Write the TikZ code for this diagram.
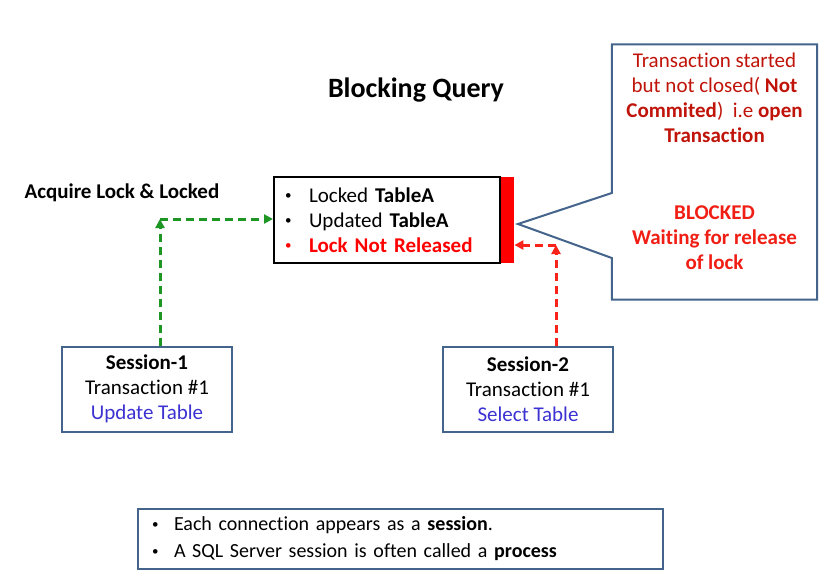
\documentclass[tikz,border=0pt]{standalone}
\usepackage{fontspec}
\setmainfont[Ligatures=NoCommon]{Carlito}
\usetikzlibrary{arrows.meta}
\definecolor{boxblue}{RGB}{68,100,140}
\definecolor{linkgreen}{RGB}{30,150,35}
\definecolor{linkred}{RGB}{250,35,25}
\definecolor{darkred}{RGB}{192,20,10}
\definecolor{brightred}{RGB}{240,30,20}
\definecolor{textblue}{RGB}{60,50,210}
\tikzset{
  body/.style={font=\fontsize{21}{25}\selectfont},
  sessionbox/.style={draw=boxblue, line width=2pt, minimum width=170pt, minimum height=85pt,
    align=center, inner sep=0pt, body},
  lockbox/.style={draw=black, line width=2pt, minimum width=226pt, minimum height=86pt,
    text width=204pt, inner xsep=11pt, align=left, body},
  redbar/.style={fill=red, draw=none, minimum width=13pt, minimum height=86pt, inner sep=0pt},
  dashlink/.style={line width=3pt, dash pattern=on 8pt off 5pt,
    -{Triangle[length=9pt,width=9pt]}},
  calloutline/.style={draw=boxblue, line width=2pt, line join=miter},
}
% small bullet followed by a fixed indent
\newcommand{\bl}[2][black]{\makebox[#2][l]{\textcolor{#1}{\raisebox{0.12em}{\fontsize{13}{13}\selectfont\textbullet}}}}
\begin{document}
\begin{tikzpicture}[x=1pt, y=-1pt]
\useasboundingbox (0,0) rectangle (833,582);
\fill[white] (0,0) rectangle (833,582);

% heading
\node[font=\fontsize{28}{32}\selectfont\bfseries] (title) at (416,90) {Blocking Query};
\node[font=\fontsize{21}{24}\selectfont\bfseries, anchor=west] (acq) at (21,193) {Acquire Lock \& Locked};

% table lock box with the red marker
\node[lockbox] (lock) at (387,220) {\bl{24pt}Locked \textbf{TableA}\\
  \bl{24pt}Updated \textbf{TableA}\\
  \bl[red]{24pt}\textcolor{red}{\textbf{Lock Not Released}}};
\node[redbar, anchor=west] (bar) at (lock.east) {};

% callout note
\node[minimum width=205pt, minimum height=255pt, inner sep=0pt] (note) at (714.5,172) {};
\coordinate (tip) at (518,224);
\draw[calloutline] (note.north west) -- (note.north east) -- (note.south east)
  -- (note.south west) -- (note.west |- 0,258) -- (tip) -- (note.west |- 0,193) -- cycle;
\node[body, align=center, text=darkred] (open) at (714.5,98)
  {Transaction started\\ but not closed( \textbf{Not}\\ \textbf{Commited})\ \ i.e \textbf{open}\\ \textbf{Transaction}};
\node[align=center, text=brightred, font=\fontsize{21}{25}\selectfont\bfseries] (blocked) at (714.5,238)
  {BLOCKED\\ Waiting for release\\ of lock};

% sessions
\node[sessionbox] (s1) at (147,389) {\textbf{Session-1}\\ Transaction \#1\\ \textcolor{textblue}{Update Table}};
\node[sessionbox] (s2) at (528,389) {\textbf{Session-2}\\ Transaction \#1\\ \textcolor{textblue}{Select Table}};

% links from sessions to the lock box
\coordinate (g0) at (160,346);
\coordinate (gc) at (160,219);
\draw[dashlink, linkgreen] (g0) -- (gc);
\draw[dashlink, linkgreen] (gc) -- (lock.west |- gc);
\coordinate (r0) at (556,346);
\coordinate (rc) at (556,245);
\draw[dashlink, linkred] (r0) -- (rc);
\draw[dashlink, linkred] (rc) -- (bar.east |- rc);

% notes at the bottom
\node[draw=boxblue, line width=2pt, minimum width=525pt, minimum height=60pt,
  text width=497pt, inner xsep=14pt, align=left, font=\fontsize{20}{27}\selectfont] (facts) at (400.5,539)
  {\bl{22pt}Each connection appears as a \textbf{session}.\\
   \bl{22pt}A SQL Server session is often called a \textbf{process}};
\end{tikzpicture}
\end{document}
